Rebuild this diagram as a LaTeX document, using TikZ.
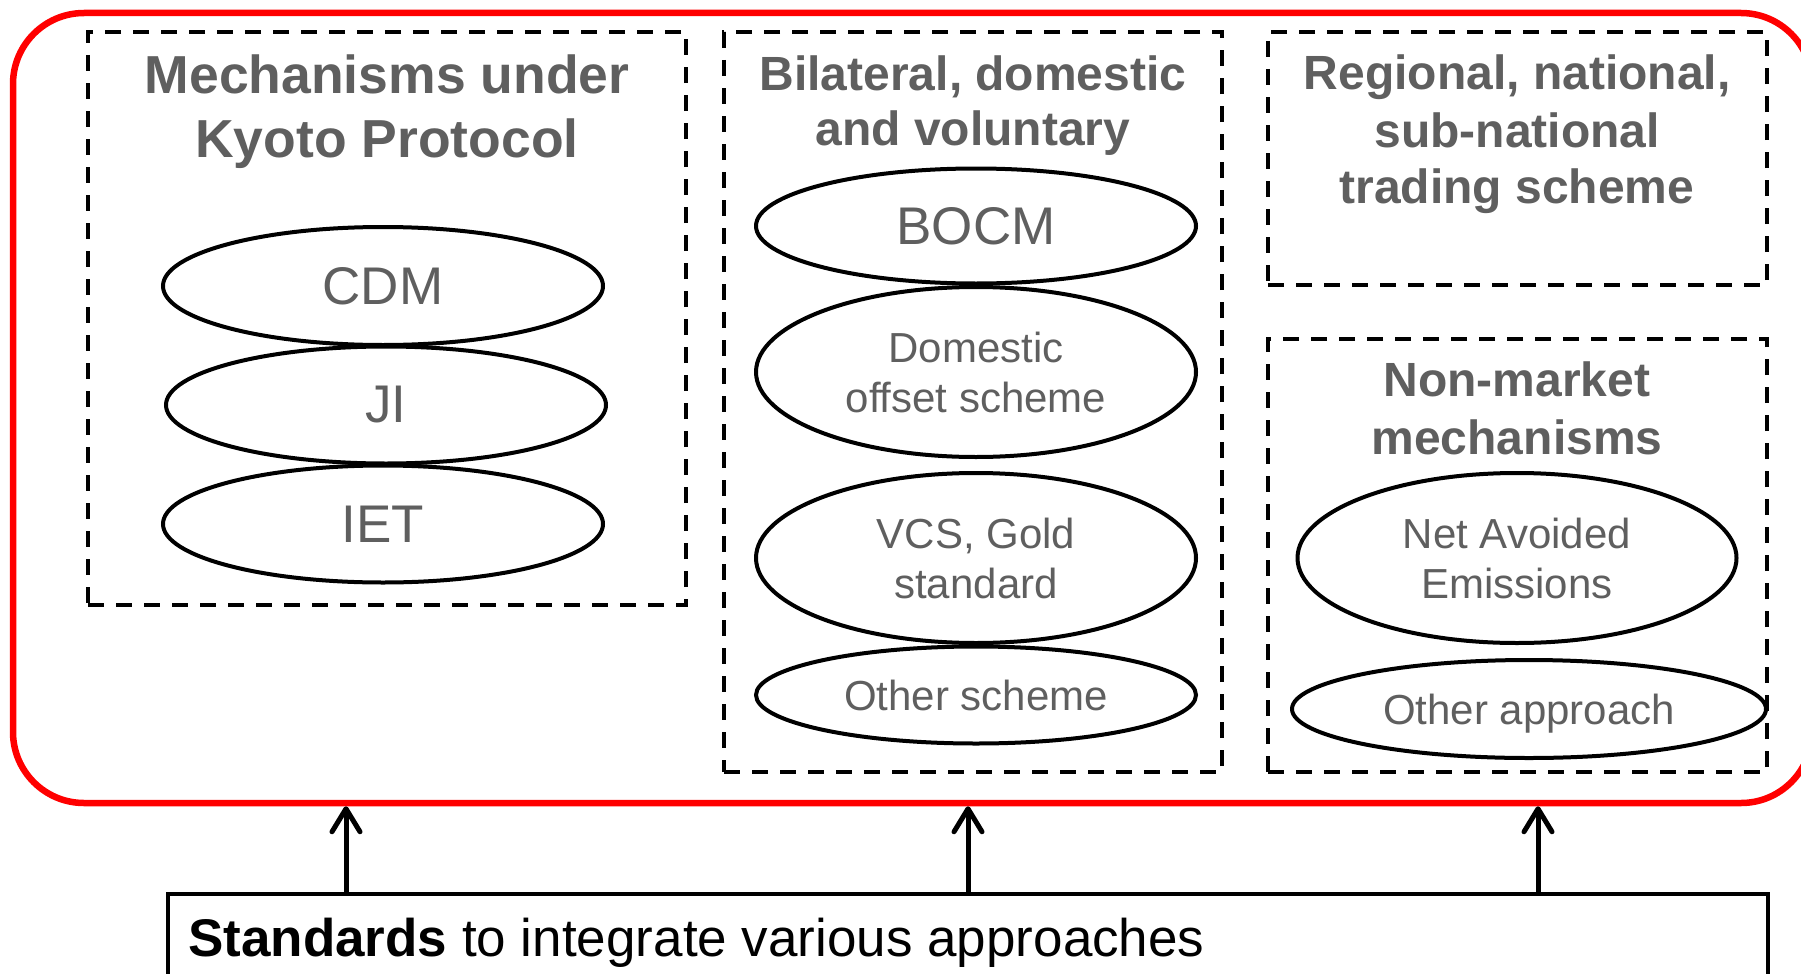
\documentclass[tikz,border=0pt]{standalone}
\usepackage{fontspec}
\setmainfont{Liberation Sans}
\usetikzlibrary{arrows.meta,shapes.geometric}
\definecolor{tgray}{RGB}{95,95,95}
\definecolor{fred}{RGB}{255,0,0}
\begin{document}
\begin{tikzpicture}[x=1pt,y=-1pt,
  dbox/.style={draw=black, line width=3.6pt, dash pattern=on 16pt off 12pt, inner sep=0pt},
  oval/.style={ellipse, draw=black, line width=4pt, inner sep=0pt, text=tgray, align=center},
  big/.style={font=\fontsize{53}{60}\selectfont},
  mid/.style={font=\fontsize{42}{50}\selectfont},
  ttlA/.style={anchor=base, inner sep=0pt, text=tgray, font=\fontsize{53.5}{62}\selectfont\bfseries},
  ttlB/.style={anchor=base, inner sep=0pt, text=tgray, font=\fontsize{48}{57}\selectfont\bfseries},
  arr/.style={line width=5pt, -{Straight Barb[length=23pt,width=28pt,round]}}]
\useasboundingbox (0,0) rectangle (1801,974);
\clip (0,0) rectangle (1801,974);
\fill[white] (0,0) rectangle (1801,974);

% outer red frame
\node[draw=fred, line width=6.5pt, rounded corners=71pt, minimum width=1799pt, minimum height=790pt, inner sep=0pt] (frame) at (912.5,408) {};

% dashed group boxes
\node[dbox, minimum width=598pt, minimum height=573pt] (b1) at (387,318.5) {};
\node[dbox, minimum width=498pt, minimum height=740pt] (b2) at (973,402) {};
\node[dbox, minimum width=499pt, minimum height=253pt] (b3) at (1517.5,158.5) {};
\node[dbox, minimum width=499pt, minimum height=433pt] (b4) at (1517.5,555.5) {};

% titles
\node[ttlA] (t1a) at (387,93) {Mechanisms under};
\node[ttlA] (t1b) at (387,157) {Kyoto Protocol};
\node[ttlB] (t2a) at (973,90) {Bilateral, domestic};
\node[ttlB] (t2b) at (973,145) {and voluntary};
\node[ttlB] (t3a) at (1517,89) {Regional, national,};
\node[ttlB] (t3b) at (1517,147) {sub-national};
\node[ttlB] (t3c) at (1517,203) {trading scheme};
\node[ttlB] (t4a) at (1517,396) {Non-market};
\node[ttlB] (t4b) at (1517,454) {mechanisms};

% ellipses
\node[oval, big, minimum width=440pt, minimum height=118pt] (cdm) at (383,286) {CDM};
\node[oval, big, minimum width=440pt, minimum height=117pt] (ji) at (386,405) {JI};
\node[oval, big, minimum width=440pt, minimum height=117pt] (iet) at (383,524) {IET};
\node[oval, big, minimum width=440pt, minimum height=115pt] (bocm) at (976,226) {BOCM};
\node[oval, mid, minimum width=440pt, minimum height=170pt] (dom) at (976,372) {Domestic\\offset scheme};
\node[oval, mid, minimum width=440pt, minimum height=170pt] (vcs) at (976,558) {VCS, Gold\\standard};
\node[oval, mid, minimum width=440pt, minimum height=97pt] (oth) at (976,695) {Other scheme};
\node[oval, mid, minimum width=439pt, minimum height=170pt] (nae) at (1517,558) {Net Avoided\\Emissions};
\node[oval, mid, minimum width=474pt, minimum height=98pt, text depth=0pt] (oap) at (1529,709) {Other approach};

% standards box
\node[draw=black, line width=3.6pt, minimum width=1600pt, minimum height=160pt, inner sep=0pt, anchor=north west] (std) at (166,892) {};
\node[anchor=base west, inner sep=0pt, big] (stdt) at (188,956) {\textbf{Standards} to integrate various approaches};

% arrows
\coordinate (a1) at (346,0);
\coordinate (a2) at (968,0);
\coordinate (a3) at (1538,0);
\draw[arr] (std.north -| a1) -- (frame.south -| a1);
\draw[arr] (std.north -| a2) -- (frame.south -| a2);
\draw[arr] (std.north -| a3) -- (frame.south -| a3);
\end{tikzpicture}
\end{document}
